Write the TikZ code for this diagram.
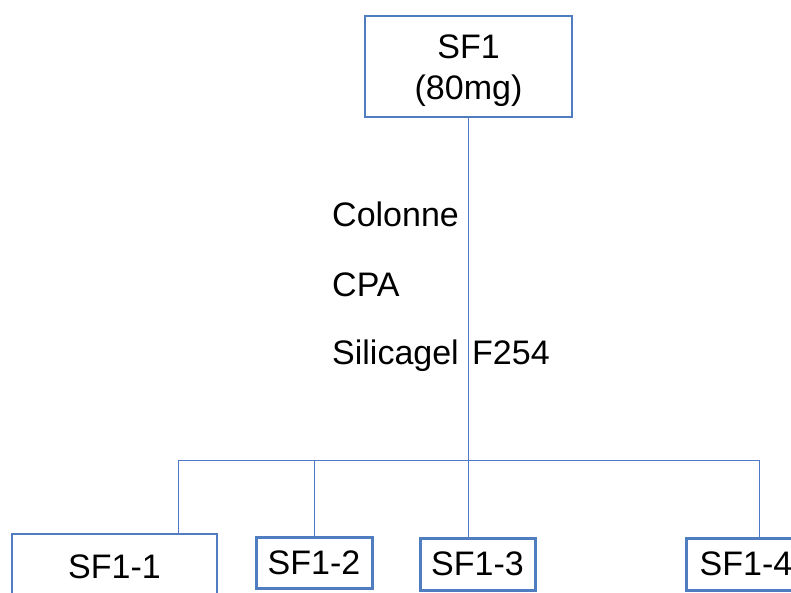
\documentclass[tikz,border=0pt]{standalone}
\usepackage{fontspec}
\setmainfont{Liberation Sans}
\definecolor{boxblue}{RGB}{79,125,192}
\definecolor{lineblue}{RGB}{80,120,200}
\begin{document}
\begin{tikzpicture}[x=1pt,y=-1pt,
  every node/.style={font=\fontsize{34}{40}\selectfont, text=black},
  topbox/.style={draw=boxblue, line width=2pt, rectangle, inner sep=0pt},
  thickbox/.style={draw=boxblue, line width=3pt, rectangle, inner sep=0pt},
  thinbox/.style={draw=boxblue, line width=2pt, rectangle, inner sep=0pt},
  conn/.style={draw=lineblue, line width=1pt},
  lbl/.style={anchor=base west, inner sep=0pt},
  ctext/.style={anchor=base, inner sep=0pt}]
\useasboundingbox (0,0) rectangle (791,593);
\clip (0,0) rectangle (791,593);
\node[topbox, minimum width=207pt, minimum height=101pt] (top) at (468.5,66.5) {};
\node[ctext] (topl1) at (468.5,59) {SF1};
\node[ctext] (topl2) at (468.5,100) {(80mg)};
\node[thinbox, minimum width=205pt, minimum height=65pt] (b1) at (114.5,566.5) {SF1-1};
\node[thickbox, minimum width=116pt, minimum height=51pt] (b2) at (314,562.5) {SF1-2};
\node[thickbox, minimum width=115pt, minimum height=52pt] (b3) at (477.5,564) {SF1-3};
\node[thickbox, minimum width=120pt, minimum height=52pt] (b4) at (746,564) {SF1-4};
\coordinate (busL) at (178,460);
\coordinate (busM) at (468,460);
\coordinate (busR) at (759,460);
\coordinate (bus2) at (314,460);
\draw[conn] (top.south -| busM) -- (busM |- b3.north);
\draw[conn] (busL) -- (busR);
\draw[conn] (busL) -- (busL |- b1.north);
\draw[conn] (bus2) -- (b2.north);
\draw[conn] (busR) -- (busR |- b4.north);
\node[lbl] (t1) at (332,227) {Colonne};
\node[lbl] (t2) at (332,296) {CPA};
\node[lbl] (t3) at (332,364) {Silicagel\hspace{4pt} F254};
\end{tikzpicture}
\end{document}
